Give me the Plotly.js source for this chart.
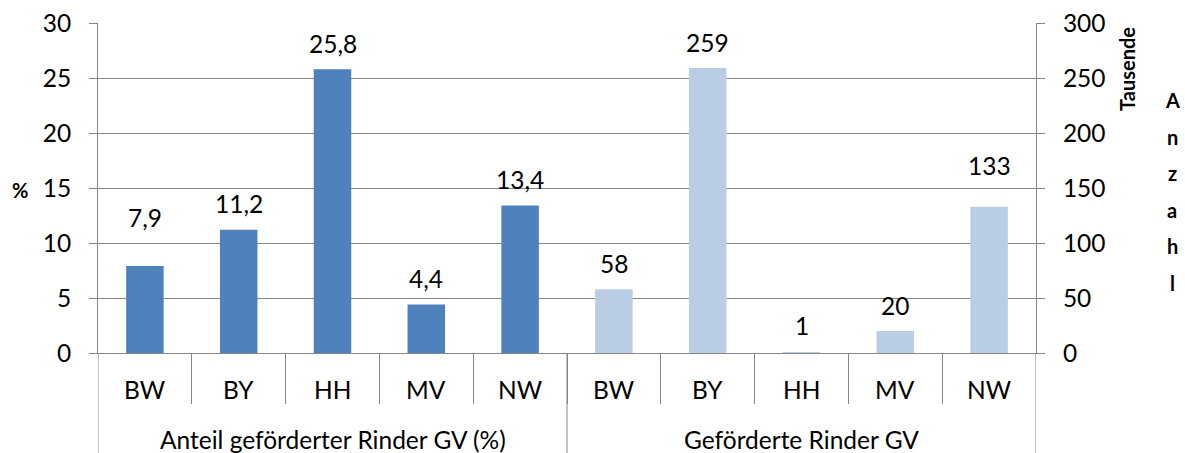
<!DOCTYPE html>
<html>
<head>
<meta charset="utf-8">
<script src="https://cdn.plot.ly/plotly-3.0.1.min.js"></script>
<style>html,body{margin:0;padding:0;background:#fff;}#chart{width:1185px;height:453px;}</style>
</head>
<body>
<div id="chart"></div>
<script>
// ---- data ----
const states = ['BW', 'BY', 'HH', 'MV', 'NW'];
const groups = ['Anteil geförderter Rinder GV (%)', 'Geförderte Rinder GV'];
const anteil = [7.9, 11.2, 25.8, 4.4, 13.4];          // %
const gefoerdert = [58, 259, 1, 20, 133];             // Tausende
const leftTicks = [0, 5, 10, 15, 20, 25, 30];
const rightTicks = [0, 50, 100, 150, 200, 250, 300];
const leftTitle = '%';
const rightTitle1 = 'Tausende';
const rightTitle2 = 'Anzahl';

// ---- styles ----
const labelLiftA = [23, 0, 0, 0, 0];
const labelLiftB = [0, 0, 0, 0, 15];
const FONT = 'Lato, "Open Sans", sans-serif';
const FS = 24.5;
const TFS = 20;
const grey = '#878787';
const dark = '#4F81BD';
const light = '#B9CDE5';

const n = states.length;
const xA = states.map((s, i) => i);
const xB = states.map((s, i) => i + n);
const total = 2 * n;

const traces = [
  {type: 'bar', x: xA, y: anteil, yaxis: 'y', marker: {color: dark}, hoverinfo: 'y', showlegend: false},
  {type: 'bar', x: xB, y: gefoerdert, yaxis: 'y2', marker: {color: light}, hoverinfo: 'y', showlegend: false}
];

const plotH = 330, plotW = 938;
const annotations = [];
const fmt = v => (Number.isInteger(v) ? String(v) : v.toFixed(1).replace('.', ','));
const txtFont = {family: FONT, size: FS, color: '#000'};
anteil.forEach((v, i) => annotations.push({x: xA[i], y: v, xref: 'x', yref: 'y', text: fmt(v), showarrow: false,
  yanchor: 'middle', yshift: 26 + labelLiftA[i], font: txtFont}));
gefoerdert.forEach((v, i) => annotations.push({x: xB[i], y: v, xref: 'x', yref: 'y2', text: fmt(v), showarrow: false,
  yanchor: 'middle', yshift: 26 + labelLiftB[i], font: txtFont}));
// category labels
states.concat(states).forEach((s, i) => annotations.push({x: i, y: -36 / plotH, xref: 'x', yref: 'paper', text: s,
  showarrow: false, yanchor: 'middle', font: txtFont}));
groups.forEach((g, k) => annotations.push({x: k * n + (n - 1) / 2, y: -86 / plotH, xref: 'x', yref: 'paper', text: g,
  showarrow: false, yanchor: 'middle', font: txtFont}));
// axis titles
const tFont = {family: FONT, size: TFS, color: '#000'};
annotations.push({x: (20 - 98) / plotW, y: (353 - 190) / plotH, xref: 'paper', yref: 'paper', text: '<b>' + leftTitle + '</b>',
  showarrow: false, xanchor: 'center', yanchor: 'middle', font: tFont});
annotations.push({x: (1127 - 98) / plotW, y: (353 - 69) / plotH, xref: 'paper', yref: 'paper', text: '<b>' + rightTitle1 + '</b>',
  textangle: -90, showarrow: false, xanchor: 'center', yanchor: 'middle', font: tFont});
rightTitle2.split('').forEach((c, i) => annotations.push({x: (1172 - 98) / plotW, y: (353 - (100 + 36.6 * i)) / plotH,
  xref: 'paper', yref: 'paper', text: '<b>' + c + '</b>', showarrow: false, xanchor: 'center', yanchor: 'middle',
  font: tFont}));

// group dividers
const shapes = [];
for (let k = 0; k <= 2; k++) {
  shapes.push({type: 'line', xref: 'x', yref: 'paper', x0: k * n - 0.5, x1: k * n - 0.5, y0: 0, y1: -100 / plotH,
    line: {color: grey, width: 1}});
}
const boundaries = [];
for (let i = 1; i < total; i++) boundaries.push(i - 0.5);

const layout = {
  width: 1185, height: 453,
  margin: {l: 98, r: 149, t: 23, b: 100, pad: 0},
  paper_bgcolor: '#fff', plot_bgcolor: '#fff',
  barmode: 'overlay', bargap: 0.6,
  font: {family: FONT, size: FS, color: '#000'},
  xaxis: {type: 'linear', range: [-0.5, total - 0.5], tickmode: 'array', tickvals: boundaries,
    showticklabels: false, ticks: 'outside', ticklen: 50, tickcolor: grey, tickwidth: 1,
    showgrid: false, zeroline: false, showline: true, linecolor: grey, linewidth: 1, fixedrange: true},
  yaxis: {range: [0, 30], tickmode: 'array', tickvals: leftTicks, ticktext: leftTicks.map(String),
    ticks: 'outside', ticklen: 8, tickcolor: grey, showline: true, linecolor: grey, linewidth: 1,
    gridcolor: grey, gridwidth: 1, zeroline: false, ticklabelstandoff: 13,
    tickfont: txtFont},
  yaxis2: {range: [0, 300], overlaying: 'y', side: 'right', tickmode: 'array', tickvals: rightTicks,
    ticktext: rightTicks.map(String), ticks: 'outside', ticklen: 8, tickcolor: grey, showline: true,
    linecolor: grey, linewidth: 1, showgrid: false, zeroline: false, ticklabelstandoff: 13,
    tickfont: txtFont},
  annotations: annotations,
  shapes: shapes
};

Plotly.newPlot('chart', traces, layout, {staticPlot: true, displayModeBar: false});
</script>
</body>
</html>
